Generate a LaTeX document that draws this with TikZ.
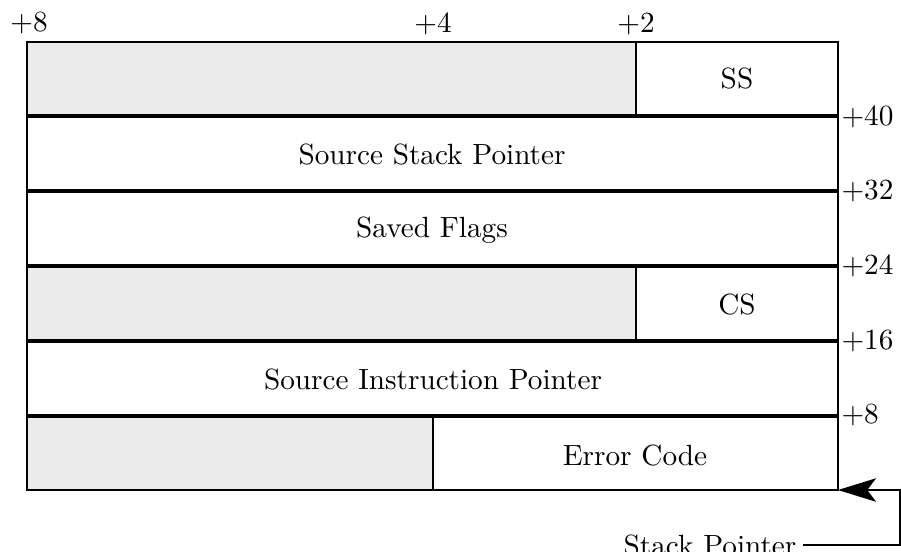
\documentclass[tikz,border=0pt]{standalone}
\usetikzlibrary{arrows.meta}
\definecolor{padgray}{RGB}{235,235,235}
\begin{document}
\begin{tikzpicture}[x=0.342pt,y=-0.342pt,
  rowbox/.style={draw=black,line width=0.7pt},
  padbox/.style={draw=black,line width=0.7pt,fill=padgray},
  lbl/.style={inner sep=0pt},
  offs/.style={inner sep=1pt,anchor=west}]
\useasboundingbox (0,0) rectangle (901,551);

% row 1: reserved bytes + SS
\draw[padbox] (27,42) rectangle (636,115.5);
\draw[rowbox] (636,42) rectangle (838,115.5);
\node[lbl] (ss) at (737,79) {SS};
% row 2
\draw[rowbox] (27,117) rectangle (838,190.5);
\node[lbl] (ssp) at (432,155) {Source Stack Pointer};
% row 3
\draw[rowbox] (27,192) rectangle (838,265.5);
\node[lbl] (flags) at (432,230) {Saved Flags};
% row 4: reserved bytes + CS
\draw[padbox] (27,267) rectangle (636,340.5);
\draw[rowbox] (636,267) rectangle (838,340.5);
\node[lbl] (cs) at (737,304) {CS};
% row 5
\draw[rowbox] (27,342) rectangle (838,415.5);
\node[lbl] (sip) at (433,379) {Source Instruction Pointer};
% row 6: reserved bytes + error code
\draw[padbox] (27,417) rectangle (433,490);
\draw[rowbox] (433,417) rectangle (838,490);
\node[lbl] (err) at (635,456) {Error Code};

% byte offsets along the top
\node[lbl] (b8) at (29,23) {$+8$};
\node[lbl] (b4) at (433,24) {$+4$};
\node[lbl] (b2) at (636,24) {$+2$};

% stack offsets along the right
\node[offs] (o40) at (838,117) {$+40$};
\node[offs] (o32) at (838,191) {$+32$};
\node[offs] (o24) at (838,266) {$+24$};
\node[offs] (o16) at (838,341) {$+16$};
\node[offs] (o8)  at (838,415) {$+8$};

% stack pointer
\node[lbl,anchor=east] (sp) at (797,545) {Stack Pointer};
\coordinate (sptop) at (838,490);
\coordinate (spturn) at (900,545);
\draw[line width=0.7pt,-{Stealth[length=13pt,width=8pt,inset=3pt]}]
  ([xshift=2pt]sp.east) -- (spturn) |- (sptop);
\end{tikzpicture}
\end{document}
